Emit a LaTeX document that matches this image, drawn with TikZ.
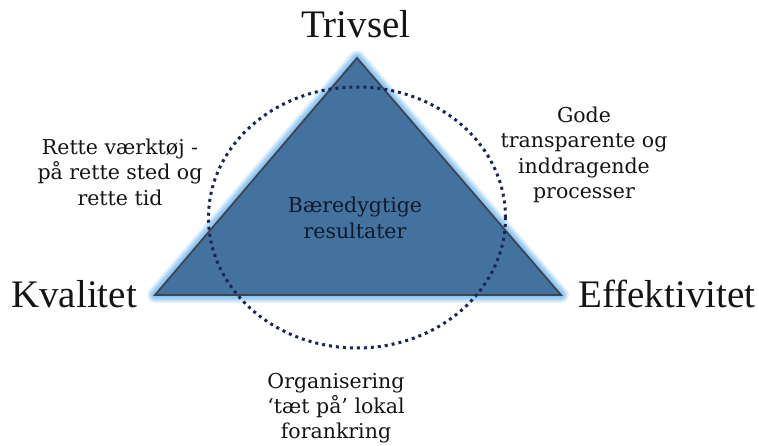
\documentclass[tikz,border=0pt]{standalone}
\usepackage{fontspec}
\usetikzlibrary{shapes.geometric}
\setmainfont{Liberation Serif}
\newfontfamily\geo{DejaVu Serif}
\definecolor{trifill}{HTML}{44729E}
\definecolor{triedge}{HTML}{3C4652}
\definecolor{glow}{HTML}{8CC4F2}
\definecolor{navy}{HTML}{1B2656}
\definecolor{txt}{HTML}{141414}
\definecolor{intxt}{HTML}{0E1A2C}
\begin{document}
\begin{tikzpicture}[x=1pt,y=-1pt,
  big/.style={font=\fontsize{39}{44}\selectfont, text=txt, inner sep=0pt, anchor=base},
  small/.style={font=\geo\fontsize{20.5}{25}\selectfont, text=txt, inner sep=0pt, anchor=base},
  inner/.style={small, text=intxt}]
\useasboundingbox (0,0) rectangle (759,446);
\coordinate (A) at (357,58);
\coordinate (L) at (155,295);
\coordinate (R) at (561,295);
% glow
\foreach \w/\o in {16/0.2,13/0.3,10/0.45,7/0.65,4/0.9}{
  \draw[glow, line width=\w pt, opacity=\o, line join=round] (A) -- (L) -- (R) -- cycle;
}
\fill[trifill] (A) -- (L) -- (R) -- cycle;
\draw[triedge, line width=1.8pt, line join=miter] (A) -- (L) -- (R) -- cycle;
% dotted circle
\node[draw=navy, line width=3pt, dash pattern=on 3pt off 4pt, ellipse, minimum width=297pt, minimum height=261pt, inner sep=0pt] (circ) at (357,217.5) {};
% big labels
\node[big] (trivsel) at (356,38) {Trivsel};
\node[big] (kval) at (74,307) {Kvalitet};
\node[big] (eff) at (667,307) {Effektivitet};
% left text
\node[small] (l1) at (120,155) {Rette værktøj -};
\node[small] (l2) at (120,180) {på rette sted og};
\node[small] (l3) at (120,205) {rette tid};
% right text
\node[small] (r1) at (584,123) {Gode};
\node[small] (r2) at (584,148) {transparente og};
\node[small] (r3) at (584,174) {inddragende};
\node[small] (r4) at (584,199) {processer};
% inner text
\node[inner] (i1) at (355,212) {Bæredygtige};
\node[inner] (i2) at (355,238) {resultater};
% bottom text
\node[small] (b1) at (336,388) {Organisering};
\node[small] (b2) at (336,413) {‘tæt på’ lokal};
\node[small] (b3) at (336,438) {forankring};
\end{tikzpicture}
\end{document}
